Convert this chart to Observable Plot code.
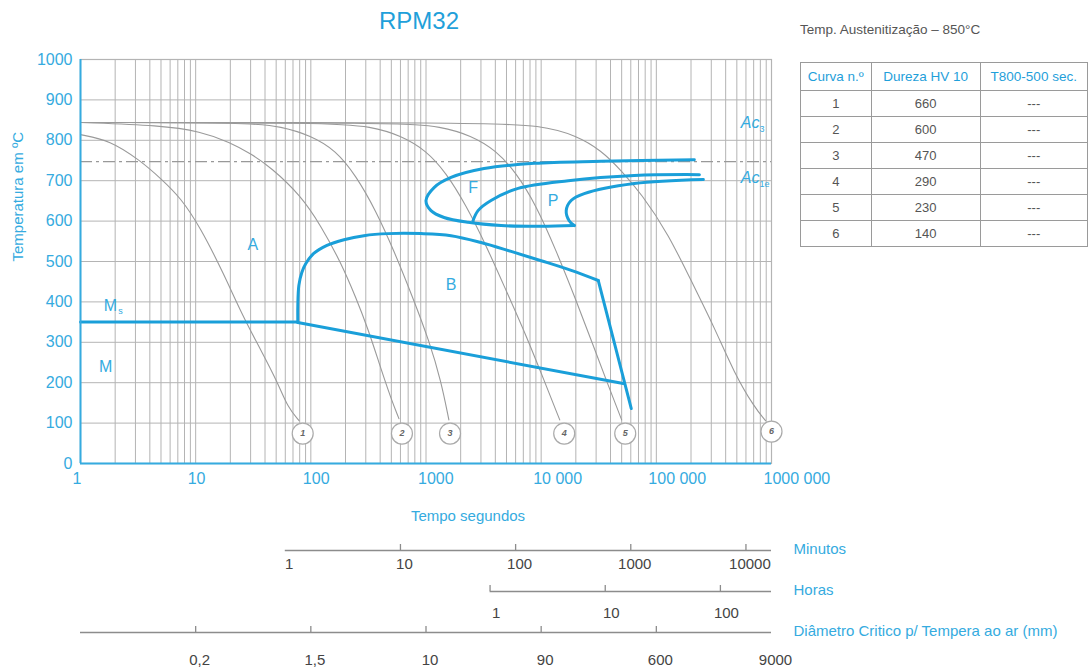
<!DOCTYPE html>
<html>
<head>
<meta charset="utf-8">
<script src="https://cdn.jsdelivr.net/npm/d3@7"></script>
<script src="https://cdn.jsdelivr.net/npm/@observablehq/plot@0.6"></script>
<style>
  body { margin: 0; background: #fff; font-family: "Liberation Sans", Arial, sans-serif; }
  #root { position: relative; width: 1088px; height: 672px; overflow: hidden; background: #fff; }
  #title { position: absolute; left: 0; width: 838px; top: 7px; text-align: center; font-size: 24px; line-height: 28px; color: #1fa0da; }
  #aust { position: absolute; left: 800px; top: 22px; font-size: 13.5px; color: #555; }
  #tbl { position: absolute; left: 800px; top: 62px; border-collapse: collapse; font-size: 13.5px; }
  #tbl td, #tbl th { border: 1px solid #9a9a9a; text-align: center; font-weight: normal; padding: 0; white-space: nowrap; }
  #tbl th { color: #1fa0da; height: 27px; }
  #tbl td { color: #555; height: 25px; font-size: 13px; }
  #main { position: absolute; left: 0; top: 40px; }
  #bottom { position: absolute; left: 0; top: 530px; }
</style>
</head>
<body>
<div id="root">
  <div id="title">RPM32</div>
  <div id="aust">Temp. Austenitização – 850°C</div>
  <table id="tbl"></table>
  <div id="main"></div>
  <div id="bottom"></div>
</div>
<script>
// ---------- data ----------
const xTicks = [1, 10, 100, 1000, 10000, 100000, 1000000];
const xTickLabels = ["1", "10", "100", "1000", "10 000", "100 000", "1000 000"];
const yTicks = [0, 100, 200, 300, 400, 500, 600, 700, 800, 900, 1000];

// cooling curves [time s, temperature °C]
const curve1 = [[1,814],[1.8,800],[3.3,750],[5,705],[7.4,658],[11,584],[17.5,470],[26,361],[37,280],[52,198],[63,139],[79,106]];
const curve2 = [[1,844],[5,837],[11,822],[20,795],[30,767],[45,733],[82,663],[122,589],[182,498],[246,411],[313,334],[390,250],[496,161],[582,111]];
const curve3 = [[1,844],[30,844],[55,834],[100,812],[165,775],[246,713],[367,626],[527,527],[787,403],[1062,304],[1350,205],[1580,108]];
const curve4 = [[1,844],[149,844],[333,834],[606,812],[1000,775],[1493,720],[2228,639],[3326,540],[4963,428],[7406,317],[10620,205],[14500,108]];
const curve5 = [[1,844],[606,844],[1350,834],[2462,812],[4063,775],[6065,720],[9050,639],[13500,527],[20150,403],[28330,292],[38270,193],[50000,108]];
const curve6 = [[1,844],[3007,844],[10000,837],[20150,812],[33250,775],[49620,725],[74100,668],[127000,569],[213800,436],[319000,337],[476000,223],[711000,139],[887000,106]];
const curveNumbers = [1, 2, 3, 4, 5, 6];
const curveEndTimes = [85, 618, 1617, 15850, 53700, 1000000];
const curveEndTemps = [74, 74, 74, 74, 74, 79];

// transformation lines
const msLine = [[1,350],[77,350]];
const bainiteStart = [[77.1,349],[77.1,391],[78.7,441],[83.5,473],[90.5,495],[106,520],[138,540],[194,554],[289,564],[468,569],[905,569],[1649,564],[3007,547],[5483,525],[10000,502],[18240,478],[31300,453]];
const bainiteNose = [[31300,453],[60600,136]];
const bainiteEnd = [[77,349],[51600,198]];
const ferriteStart = [[213800,752],[33200,748],[8690,743],[3190,730],[1650,708],[1175,683],[1000,651],[1105,626],[1435,609],[2320,597],[4490,589],[10000,587],[19400,589]];
const pearliteStart = [[236600,715],[64400,713],[17200,700],[6310,681],[3670,651],[2830,626],[2560,601]];
const pearliteEnd = [[256000,703],[64400,693],[23650,668],[18200,651],[16500,626],[17500,601],[19400,589]];
const ac1Temp = 747;

// region labels
const regionNames = ["A", "B", "F", "P", "M", "M"];
const regionTimes = [31.3, 1650, 2560, 12700, 1.65, 1.82];
const regionTemps = [540, 441, 683, 649, 240, 391];
const acNames = ["Ac", "Ac"];
const acSubs = ["3", "1e"];
const acTemps = [843, 707];

// table
const tableHeader = ["Curva n.º", "Dureza HV 10", "T800-500 sec."];
const tableCurves = [1, 2, 3, 4, 5, 6];
const tableHardness = [660, 600, 470, 290, 230, 140];
const tableT800500 = ["---", "---", "---", "---", "---", "---"];

// secondary time axes
const minuteTicks = [1, 10, 100, 1000, 10000];
const minuteTickMarks = [10, 100, 1000, 10000];
const hourTicks = [1, 10, 100];
const diameterLabels = ["0,2", "1,5", "10", "90", "600", "9000"];
const diameterTimes = [10, 100, 1000, 10000, 100000, 1000000];
const diameterTickMarks = [10, 100, 1000, 10000, 100000];

// ---------- build ----------
const BLUE = "#1a9fd9";
const LBLUE = "#35abe0";
const GRID = "#b4b4b4";
const GRAY = "#9a9a9a";

const toRows = (pts, name) => pts.map(([t, T]) => ({t, T, name}));
const cooling = [curve1, curve2, curve3, curve4, curve5, curve6].flatMap((c, i) => toRows(c, i + 1));
const ends = curveNumbers.map((n, i) => ({n, t: curveEndTimes[i], T: curveEndTemps[i]}));
const regions = regionNames.map((s, i) => ({s, t: regionTimes[i], T: regionTemps[i]}));
const acs = acNames.map((s, i) => ({s, sub: acSubs[i], t: 1e6, T: acTemps[i]}));
const xLabelMap = new Map(xTicks.map((d, i) => [d, xTickLabels[i]]));
const blueLine = (pts, curve = "catmull-rom") => Plot.line(toRows(pts), {x: "t", y: "T", curve, stroke: BLUE, strokeWidth: 3, strokeLinejoin: "round", strokeLinecap: "round"});

const main = Plot.plot({
  width: 830, height: 500,
  marginLeft: 80, marginRight: 59, marginTop: 19, marginBottom: 77,
  style: {fontFamily: '"Liberation Sans", Arial, sans-serif', background: "transparent", overflow: "visible"},
  x: {type: "log", domain: [1, 1e6]},
  y: {domain: [0, 1000]},
  marks: [
    Plot.gridX({ticks: 60, stroke: GRID, strokeOpacity: 1, strokeWidth: 1}),
    Plot.gridY(yTicks, {stroke: GRID, strokeOpacity: 1, strokeWidth: 1}),
    Plot.frame({stroke: GRID, strokeWidth: 1.2}),
    Plot.ruleY([ac1Temp], {stroke: "#999", strokeWidth: 1.2, strokeDasharray: "12,4,3,4"}),
    Plot.line(cooling, {x: "t", y: "T", z: "name", curve: "basis", stroke: GRAY, strokeWidth: 1.1}),
    Plot.dot(ends, {x: "t", y: "T", r: 10.5, fill: "white", stroke: "#aaa", strokeWidth: 1.2}),
    Plot.text(ends, {x: "t", y: "T", text: "n", fontSize: 9, fontStyle: "italic", fontWeight: "bold", fill: "#666"}),
    blueLine(msLine, "linear"),
    blueLine(bainiteStart),
    blueLine(bainiteNose, "linear"),
    blueLine(bainiteEnd, "linear"),
    blueLine(ferriteStart),
    blueLine(pearliteStart),
    blueLine(pearliteEnd),
    Plot.ruleX([1], {stroke: LBLUE, strokeWidth: 2}),
    Plot.ruleY([0], {stroke: LBLUE, strokeWidth: 2}),
    Plot.text(regions, {x: "t", y: "T", text: "s", fill: LBLUE, fontSize: 16}),
    Plot.text(regions.filter((d, i) => i === 5), {x: "t", y: "T", text: () => "s", fill: LBLUE, fontSize: 9, dx: 10, dy: 6}),
    Plot.text(acs, {x: "t", y: "T", text: "s", fill: LBLUE, fontSize: 16, fontStyle: "italic", textAnchor: "end", dx: -12}),
    Plot.text(acs, {x: "t", y: "T", text: "sub", fill: LBLUE, fontSize: 9, textAnchor: "start", dx: -12, dy: 6}),
    Plot.axisX(xTicks, {tickSize: 0, tickPadding: 9, tickFormat: (d) => xLabelMap.get(d), textAnchor: "start", dx: -8, fontSize: 16, color: LBLUE, label: null}),
    Plot.axisY(yTicks, {tickSize: 0, tickPadding: 8, tickFormat: (d) => String(d), fontSize: 16, color: LBLUE, label: null}),
    Plot.text(["Temperatura em ºC"], {text: (d) => d, frameAnchor: "left", rotate: -90, dx: -62, fontSize: 15, fill: LBLUE}),
    Plot.text(["Tempo segundos"], {text: (d) => d, frameAnchor: "bottom", dx: 42, dy: 57, fontSize: 15, fill: LBLUE})
  ]
});
document.getElementById("main").appendChild(main);

// secondary axes
const axisRows = [
  {key: "min", name: "Minutos", from: 60, to: 1e6},
  {key: "h", name: "Horas", from: 3600, to: 1e6},
  {key: "d", name: "Diâmetro Critico p/ Tempera ao ar (mm)", from: 1, to: 1e6}
];
const minLabels = minuteTicks.map((m) => ({key: "min", sec: m * 60, label: String(m)}));
const hourLabels = hourTicks.map((h) => ({key: "h", sec: h * 3600, label: String(h)}));
const diaLabels = diameterTimes.map((s, i) => ({key: "d", sec: s, label: diameterLabels[i]}));
const tickMarks = [
  ...minuteTickMarks.map((m) => ({key: "min", sec: m * 60})),
  ...hourTicks.map((h) => ({key: "h", sec: h * 3600})),
  ...diameterTickMarks.map((s) => ({key: "d", sec: s}))
];
const AX = "#8c8c8c";
const LAB = "#444";
const bottom = Plot.plot({
  width: 1088, height: 142,
  marginLeft: 80, marginRight: 317, marginTop: 0, marginBottom: 0,
  style: {fontFamily: '"Liberation Sans", Arial, sans-serif', background: "transparent", overflow: "visible"},
  x: {type: "log", domain: [1, 1e6], axis: null},
  y: {type: "point", domain: ["min", "h", "d"], range: [19, 102], padding: 0, axis: null},
  marks: [
    Plot.ruleY(axisRows, {y: "key", x1: "from", x2: "to", stroke: AX, strokeWidth: 1.5}),
    Plot.ruleX(tickMarks, {x: "sec", y1: "key", y2: "key", insetTop: -6, stroke: AX, strokeWidth: 1.3}),
    Plot.text(minLabels, {x: "sec", y: "key", text: "label", dx: 4, dy: 14, fontSize: 15, fill: LAB}),
    Plot.text(hourLabels, {x: "sec", y: "key", text: "label", dx: 6, dy: 22, fontSize: 15, fill: LAB}),
    Plot.text(diaLabels, {x: "sec", y: "key", text: "label", dx: 4, dy: 28, fontSize: 15, fill: LAB}),
    Plot.text(axisRows, {x: "to", y: "key", text: "name", textAnchor: "start", dx: 22, dy: -1, fontSize: 15, fill: LBLUE})
  ]
});
document.getElementById("bottom").appendChild(bottom);

// table
const tbl = document.getElementById("tbl");
const colW = [72, 112, 110];
const hr = document.createElement("tr");
tableHeader.forEach((h, i) => { const th = document.createElement("th"); th.textContent = h; th.style.width = colW[i] + "px"; hr.appendChild(th); });
tbl.appendChild(hr);
tableCurves.forEach((c, i) => {
  const tr = document.createElement("tr");
  [c, tableHardness[i], tableT800500[i]].forEach((v) => { const td = document.createElement("td"); td.textContent = v; tr.appendChild(td); });
  tbl.appendChild(tr);
});
</script>
</body>
</html>
